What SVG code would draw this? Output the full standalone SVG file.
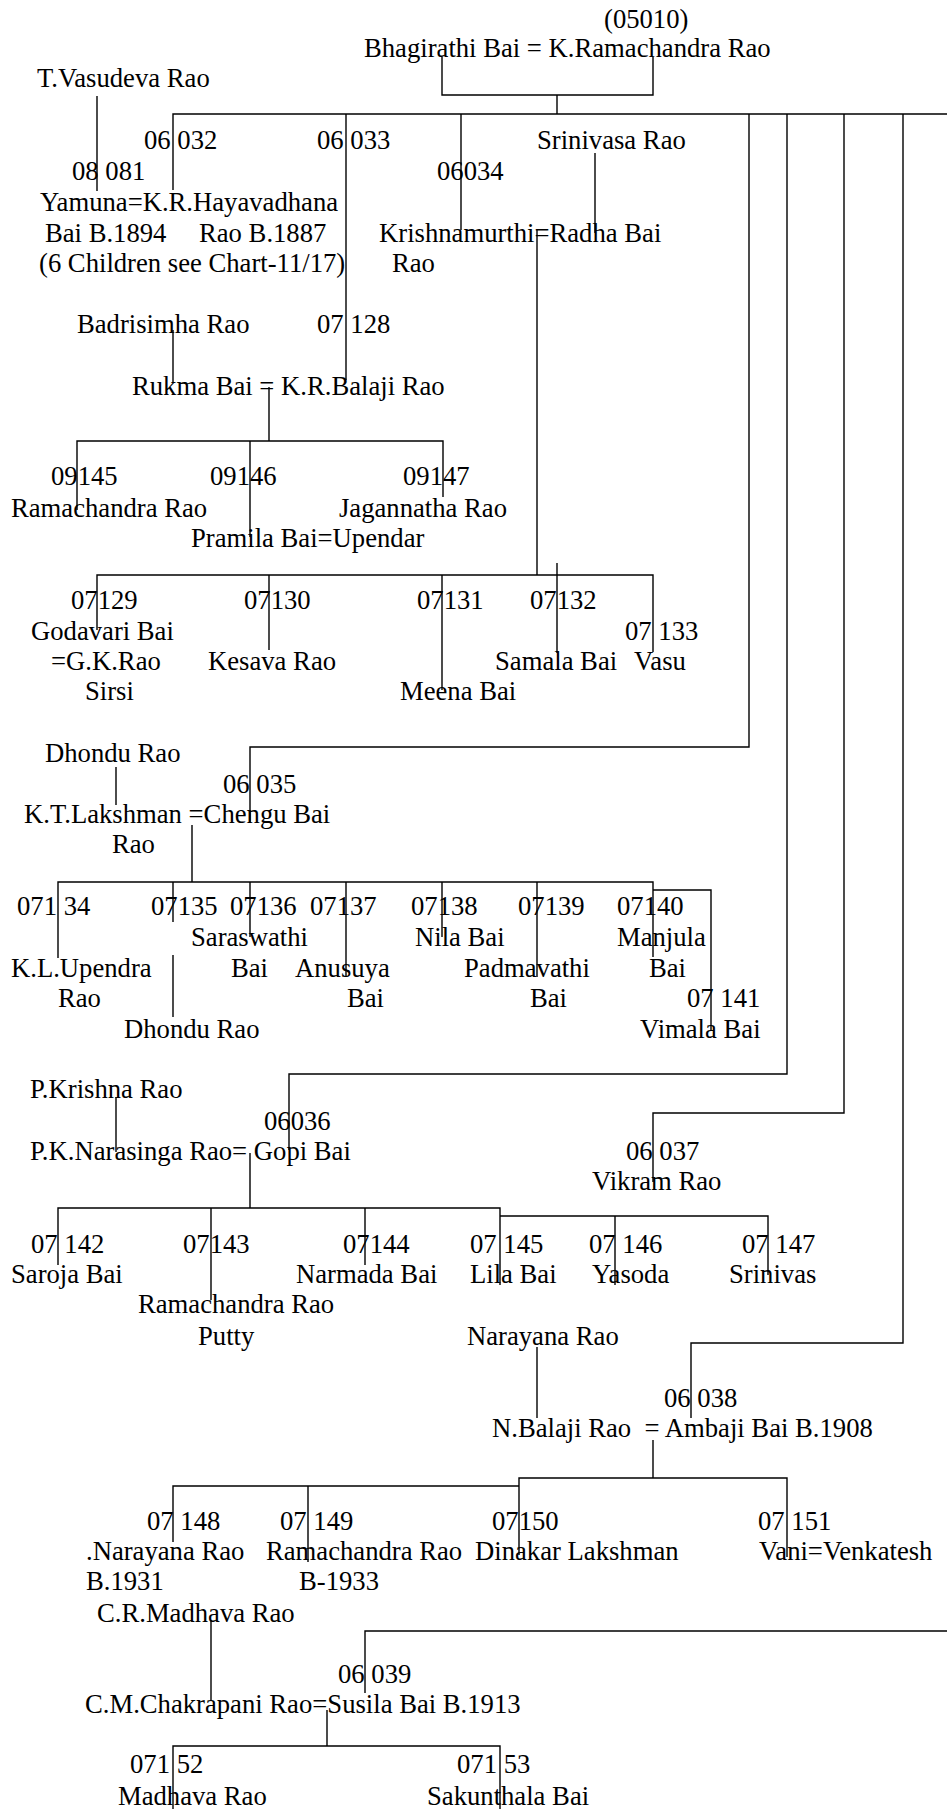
<svg xmlns="http://www.w3.org/2000/svg" width="947" height="1809" viewBox="0 0 947 1809">
<style>
text{font-family:"Liberation Serif","Times New Roman",serif;font-size:26.67px;fill:#000;white-space:pre}
.c{fill:none;stroke:#000;stroke-width:1.4}
</style>
<rect width="947" height="1809" fill="#fff"/>
<g id="connectors" class="c">
<path d="M442,57V95H653V57M557,95V114"/>
<path d="M173,190V114H947"/>
<path d="M346,114V380"/>
<path d="M461,114V230"/>
<path d="M595,153V233"/>
<path d="M537,230V575"/>
<path d="M97,96V191"/>
<path d="M173,330V383"/>
<path d="M269,387V441M77,510V441H443V497M250,441V537"/>
<path d="M97,630V575H653V652M269,575V650M442,575V690M557,563V653"/>
<path d="M749,114V747H250V823"/>
<path d="M116,767V805"/>
<path d="M192,825V882M58,958V882H653V957M653,890H711V1030M173,882V922M173,955V1017M250,882V937M346,882V977M442,882V937M537,882V977"/>
<path d="M787,114V1074H289V1150"/>
<path d="M116,1097V1152"/>
<path d="M844,114V1113H653V1182"/>
<path d="M250,1153V1208M58,1265V1208H500V1285M500,1216H768V1275M211,1208V1300M365,1208V1265M615,1216V1285"/>
<path d="M903,114V1343H691V1418"/>
<path d="M537,1347V1418"/>
<path d="M653,1440V1478M519,1555V1478H787V1557M173,1542V1486H519M308,1486V1562"/>
<path d="M211,1620V1700"/>
<path d="M947,1631H365V1693"/>
<path d="M327,1710V1746M173,1809V1746H500V1809"/>
</g>
<g id="n05010"><text x="604" y="28">(05010)</text><text x="364" y="57">Bhagirathi Bai = K.Ramachandra Rao</text></g>
<g id="vasudeva"><text x="37" y="87">T.Vasudeva Rao</text></g>
<g id="n06032"><text x="144" y="149">06 032</text><text x="72" y="180">08 081</text><text x="40" y="211">Yamuna=K.R.Hayavadhana</text><text x="45" y="242">Bai B.1894</text><text x="199" y="242">Rao B.1887</text><text x="39" y="272">(6 Children see Chart-11/17)</text></g>
<g id="n06033"><text x="317" y="149">06 033</text></g>
<g id="srinivasa"><text x="537" y="149">Srinivasa Rao</text></g>
<g id="n06034"><text x="437" y="180">06034</text><text x="379" y="242">Krishnamurthi=Radha Bai</text><text x="392" y="272">Rao</text></g>
<g id="badrisimha"><text x="77" y="333">Badrisimha Rao</text></g>
<g id="n07128"><text x="317" y="333">07 128</text><text x="132" y="395">Rukma Bai = K.R.Balaji Rao</text></g>
<g id="n09145"><text x="51" y="485">09145</text><text x="11" y="517">Ramachandra Rao</text></g>
<g id="n09146"><text x="210" y="485">09146</text><text x="191" y="547">Pramila Bai=Upendar</text></g>
<g id="n09147"><text x="403" y="485">09147</text><text x="339" y="517">Jagannatha Rao</text></g>
<g id="n07129"><text x="71" y="609">07129</text><text x="31" y="640">Godavari Bai</text><text x="51" y="670">=G.K.Rao</text><text x="85" y="700">Sirsi</text></g>
<g id="n07130"><text x="244" y="609">07130</text><text x="208" y="670">Kesava Rao</text></g>
<g id="n07131"><text x="417" y="609">07131</text><text x="400" y="700">Meena Bai</text></g>
<g id="n07132"><text x="530" y="609">07132</text><text x="495" y="670">Samala Bai</text></g>
<g id="n07133"><text x="625" y="640">07 133</text><text x="634" y="670">Vasu</text></g>
<g id="dhondu1"><text x="45" y="762">Dhondu Rao</text></g>
<g id="n06035"><text x="223" y="793">06 035</text><text x="24" y="823">K.T.Lakshman =Chengu Bai</text><text x="112" y="853">Rao</text></g>
<g id="n07134"><text x="17" y="915">071 34</text><text x="11" y="977">K.L.Upendra</text><text x="58" y="1007">Rao</text></g>
<g id="n07135"><text x="151" y="915">07135</text><text x="124" y="1038">Dhondu Rao</text></g>
<g id="n07136"><text x="230" y="915">07136</text><text x="191" y="946">Saraswathi</text><text x="231" y="977">Bai</text></g>
<g id="n07137"><text x="310" y="915">07137</text><text x="295" y="977">Anusuya</text><text x="347" y="1007">Bai</text></g>
<g id="n07138"><text x="411" y="915">07138</text><text x="415" y="946">Nila Bai</text></g>
<g id="n07139"><text x="518" y="915">07139</text><text x="464" y="977">Padmavathi</text><text x="530" y="1007">Bai</text></g>
<g id="n07140"><text x="617" y="915">07140</text><text x="617" y="946">Manjula</text><text x="649" y="977">Bai</text></g>
<g id="n07141"><text x="687" y="1007">07 141</text><text x="640" y="1038">Vimala Bai</text></g>
<g id="pkrishna"><text x="30" y="1098">P.Krishna Rao</text></g>
<g id="n06036"><text x="264" y="1130">06036</text><text x="30" y="1160">P.K.Narasinga Rao= Gopi Bai</text></g>
<g id="n06037"><text x="626" y="1160">06 037</text><text x="592" y="1190">Vikram Rao</text></g>
<g id="n07142"><text x="31" y="1253">07 142</text><text x="11" y="1283">Saroja Bai</text></g>
<g id="n07143"><text x="183" y="1253">07143</text><text x="138" y="1313">Ramachandra Rao</text><text x="198" y="1345">Putty</text></g>
<g id="n07144"><text x="343" y="1253">07144</text><text x="296" y="1283">Narmada Bai</text></g>
<g id="n07145"><text x="470" y="1253">07 145</text><text x="470" y="1283">Lila Bai</text></g>
<g id="n07146"><text x="589" y="1253">07 146</text><text x="592" y="1283">Yasoda</text></g>
<g id="n07147"><text x="742" y="1253">07 147</text><text x="729" y="1283">Srinivas</text></g>
<g id="narayana"><text x="467" y="1345">Narayana Rao</text></g>
<g id="n06038"><text x="664" y="1407">06 038</text><text x="492" y="1437">N.Balaji Rao  = Ambaji Bai B.1908</text></g>
<g id="n07148"><text x="147" y="1530">07 148</text><text x="86" y="1560">.Narayana Rao</text><text x="86" y="1590">B.1931</text></g>
<g id="n07149"><text x="280" y="1530">07 149</text><text x="266" y="1560">Ramachandra Rao</text><text x="299" y="1590">B-1933</text></g>
<g id="n07150"><text x="492" y="1530">07150</text><text x="475" y="1560">Dinakar Lakshman</text></g>
<g id="n07151"><text x="758" y="1530">07 151</text><text x="759" y="1560">Vani=Venkatesh</text></g>
<g id="crmadhava"><text x="97" y="1622">C.R.Madhava Rao</text></g>
<g id="n06039"><text x="338" y="1683">06 039</text><text x="85" y="1713">C.M.Chakrapani Rao=Susila Bai B.1913</text></g>
<g id="n07152"><text x="130" y="1773">071 52</text><text x="118" y="1805">Madhava Rao</text></g>
<g id="n07153"><text x="457" y="1773">071 53</text><text x="427" y="1805">Sakunthala Bai</text></g>
</svg>
